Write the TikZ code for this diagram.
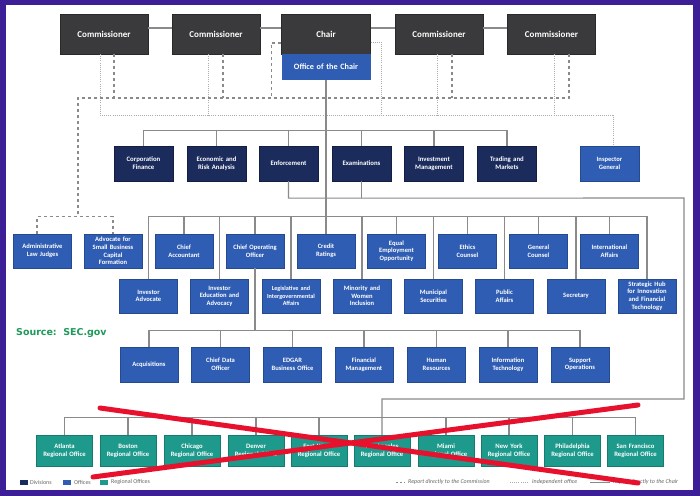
\documentclass[tikz,border=0pt]{standalone}
\usepackage{fontspec}
\setmainfont{Carlito}
\newfontfamily\srcfont{DejaVu Sans}
\definecolor{framec}{HTML}{3C1E96}
\definecolor{commc}{HTML}{3A3A3C}
\definecolor{divc}{HTML}{1B2B5C}
\definecolor{offc}{HTML}{2F5DB3}
\definecolor{regc}{HTML}{1D9A8C}
\definecolor{linec}{HTML}{8A8A8A}
\definecolor{srcc}{HTML}{1E9A5A}
\definecolor{redx}{HTML}{E8112D}
\definecolor{legc}{HTML}{666666}
\tikzset{
  basebox/.style={inner sep=0pt, align=center, text=white, font=\bfseries\fontsize{6.6}{7.6}\selectfont},
  commbox/.style={basebox, fill=commc, draw=commc!70!black, minimum width=88bp, minimum height=40bp, text width=84bp, font=\bfseries\fontsize{9}{10}\selectfont},
  chairoff/.style={basebox, fill=offc, minimum width=89bp, minimum height=26bp, text width=85bp, font=\bfseries\fontsize{8.2}{9}\selectfont},
  divbox/.style={basebox, fill=divc, draw=divc!70!black, minimum width=59bp, minimum height=35bp, text width=56bp, font=\bfseries\fontsize{6.8}{8.2}\selectfont},
  offbox/.style={basebox, fill=offc, draw=offc!80!black, minimum width=58bp, minimum height=34bp, text width=56bp},
  offboxc/.style={offbox, minimum height=35bp},
  regbox/.style={basebox, fill=regc, draw=regc!80!black, minimum width=56bp, minimum height=31bp, text width=55bp, font=\bfseries\fontsize{6.7}{8}\selectfont},
  conn/.style={draw=linec, line width=1.1bp},
  rep/.style={draw=linec, line width=1.3bp, dash pattern=on 3bp off 3bp},
  ind/.style={draw=linec!70, line width=0.9bp, dash pattern=on 0.9bp off 1.2bp},
  legtext/.style={text=legc, inner sep=0pt, anchor=west, font=\fontsize{6}{7}\selectfont},
  legitext/.style={legtext, font=\itshape\fontsize{6}{7}\selectfont},
  legsq/.style={inner sep=0pt, minimum width=8bp, minimum height=5bp},
  redline/.style={draw=redx, line width=5bp, line cap=round},
}
\begin{document}
\begin{tikzpicture}[x=1bp,y=-1bp]
\useasboundingbox (0,0) rectangle (700,496);
\fill[framec] (0,0) rectangle (700,496);
\fill[white] (6,5) rectangle (693,490);

% top row
\node[commbox] (c1) at (104,34) {Commissioner};
\node[commbox] (c2) at (216,34) {Commissioner};
\node[commbox, minimum width=89bp] (ch) at (326,34) {Chair};
\node[commbox] (c4) at (439,34) {Commissioner};
\node[commbox] (c5) at (551.5,34) {Commissioner};
\node[chairoff] (ofc) at (326,67) {Office of the Chair};

% divisions
\node[divbox] (cf) at (143.5,163.5) {Corporation\\Finance};
\node[divbox] (era) at (216.5,163.5) {Economic and\\Risk Analysis};
\node[divbox] (enf) at (288.5,163.5) {Enforcement};
\node[divbox] (exam) at (361.5,163.5) {Examinations};
\node[divbox] (im) at (434,163.5) {Investment\\Management};
\node[divbox] (tm) at (507,163.5) {Trading and\\Markets};
\node[offbox, minimum width=59bp, minimum height=35bp] (ig) at (609.5,163.5) {Inspector\\General};

% offices row A
\node[offbox] (alj) at (42.5,251) {Administrative\\Law Judges};
\node[offbox] (asb) at (113,251) {Advocate for\\Small Business\\Capital\\Formation};
\node[offbox] (ca) at (184,251) {Chief\\Accountant};
\node[offbox] (coo) at (255,251) {Chief Operating\\Officer};
\node[offbox] (cr) at (326,251) {Credit\\Ratings};
\node[offbox] (eeo) at (396.5,251) {Equal\\Employment\\Opportunity};
\node[offbox] (ec) at (467.5,251) {Ethics\\Counsel};
\node[offbox] (gc) at (538.5,251) {General\\Counsel};
\node[offbox] (ia) at (609.5,251) {International\\Affairs};

% offices row B
\node[offbox] (inva) at (148.5,296) {Investor\\Advocate};
\node[offbox] (iea) at (219.5,296) {Investor\\Education and\\Advocacy};
\node[offbox, font=\bfseries\fontsize{6.2}{7.6}\selectfont] (lia) at (291,296) {Legislative and\\Intergovernmental\\Affairs};
\node[offbox] (mwi) at (362,296) {Minority and\\Women\\Inclusion};
\node[offbox] (ms) at (433.5,296) {Municipal\\Securities};
\node[offbox] (pa) at (504.5,296) {Public\\Affairs};
\node[offbox] (sec) at (576,296) {Secretary};
\node[offbox] (sh) at (647,296) {Strategic Hub\\for Innovation\\and Financial\\Technology};

% offices row C (COO)
\node[offboxc] (acq) at (149,364.5) {Acquisitions};
\node[offboxc] (cdo) at (220.5,364.5) {Chief Data\\Officer};
\node[offboxc] (edg) at (292.5,364.5) {EDGAR\\Business Office};
\node[offboxc] (fm) at (364,364.5) {Financial\\Management};
\node[offboxc] (hr) at (436.5,364.5) {Human\\Resources};
\node[offboxc] (it) at (508,364.5) {Information\\Technology};
\node[offboxc] (so) at (580,364.5) {Support\\Operations};

% regional offices
\node[regbox] (atl) at (64.5,450.5) {Atlanta\\Regional Office};
\node[regbox] (bos) at (128,450.5) {Boston\\Regional Office};
\node[regbox] (chi) at (192,450.5) {Chicago\\Regional Office};
\node[regbox] (den) at (256,450.5) {Denver\\Regional Office};
\node[regbox] (ftw) at (319,450.5) {Fort Worth\\Regional Office};
\node[regbox] (la) at (382,450.5) {Los Angeles\\Regional Office};
\node[regbox] (mia) at (446,450.5) {Miami\\Regional Office};
\node[regbox] (ny) at (509,450.5) {New York\\Regional Office};
\node[regbox] (phi) at (572.5,450.5) {Philadelphia\\Regional Office};
\node[regbox] (sf) at (635.5,450.5) {San Francisco\\Regional Office};

% commission solid link
\draw[conn] ([yshift=6bp]c1.east) -- ([yshift=6bp]c2.west);
\draw[conn] ([yshift=6bp]c2.east) -- ([yshift=6bp]ch.west);
\draw[conn] ([yshift=6bp]ch.east) -- ([yshift=6bp]c4.west);
\draw[conn] ([yshift=6bp]c4.east) -- ([yshift=6bp]c5.west);

% independent (dotted)
\draw[ind] ([xshift=-4bp]c1.south) -- ++(0,61) -| ([xshift=3.5bp]ig.north);
\draw[ind] ([xshift=-8bp]c2.south) -- ++(0,61);
\draw[ind] ([xshift=-2bp]c4.south) -- ++(0,61);
\draw[ind] ([xshift=2.5bp]c5.south) -- ++(0,61);
\draw[ind] ([yshift=-8bp]ch.east) -- ++(11,0) -- ++(0,73);

% report to commission (dashed)
\coordinate (dk) at (78,98);
\coordinate (dj) at (78,217);
\draw[rep] ([xshift=17.5bp]c5.south) |- (dk) -- (dj);
\draw[rep] ([xshift=10bp]c1.south) -- ++(0,44);
\draw[rep] ([xshift=7bp]c2.south) -- ++(0,44);
\draw[rep] ([xshift=13bp]c4.south) -- ++(0,44);
\draw[rep] ([yshift=-9bp]ch.west) -- ++(-10,0) -- ++(0,55);
\draw[rep] ([xshift=-5.5bp]alj.north) -- ++(0,-17) -| (asb.north);

% chair spine
\draw[conn] (ofc.south) -- (cr.north);
% divisions bus
\draw[conn] (cf.north) -- ++(0,-15) -| (tm.north);
\foreach \n in {era,enf,exam,im} \draw[conn] (\n.north) -- ++(0,-15);
% offices bus
\draw[conn] (inva.north) -- ++(0,-62) -| (sh.north);
\foreach \n in {ca,coo,eeo,ec,gc,ia} \draw[conn] (\n.north) -- ++(0,-17);
\foreach \n in {iea,lia,mwi,ms,pa,sec} \draw[conn] (\n.north) -- ++(0,-62);
% COO bus
\draw[conn] (coo.south) -- ++(0,63);
\draw[conn] (acq.north) -- ++(0,-16) -| (so.north);
\foreach \n in {cdo,edg,fm,hr,it} \draw[conn] (\n.north) -- ++(0,-16);
% enforcement/examinations to regional offices
\coordinate (rt) at (684,198);
\coordinate (rb) at (684,399);
\coordinate (lb) at (382,399);
\draw[conn] (enf.south) -- ++(0,17) -- (rt) -- (rb) -- (lb) -- (la.north);
\draw[conn] (exam.south) -- ++(0,17);
% regional bus
\draw[conn] (atl.north) -- ++(0,-17) -| (sf.north);
\foreach \n in {bos,chi,den,ftw,mia,ny,phi} \draw[conn] (\n.north) -- ++(0,-17);

% source
\node[text=srcc, inner sep=0pt, anchor=west, font=\srcfont\bfseries\fontsize{9.5}{11}\selectfont] (src) at (16,333) {Source:\ \ SEC.gov};

% legend
\node[legsq, fill=divc] (l1) at (24,482) {};
\node[legtext] (l1t) at (30,482) {Divisions};
\node[legsq, fill=offc] (l2) at (67,482) {};
\node[legtext] (l2t) at (74,482) {Offices};
\node[legsq, fill=regc] (l3) at (104,482) {};
\node[legtext] (l3t) at (111,482) {Regional Offices};
\coordinate (r1a) at (396,482); \coordinate (r1b) at (405,482);
\draw[rep, line width=0.8bp, dash pattern=on 2bp off 2bp] (r1a) -- (r1b);
\node[legitext] (r1t) at (408,482) {Report directly to the Commission};
\coordinate (r2a) at (510,482); \coordinate (r2b) at (528,482);
\draw[ind, line width=0.6bp] (r2a) -- (r2b);
\node[legitext] (r2t) at (532,482) {Independent office};
\coordinate (r3a) at (590,482); \coordinate (r3b) at (610,482);
\draw[conn, line width=0.8bp] (r3a) -- (r3b);
\node[legitext] (r3t) at (613,482) {Report directly to the Chair};

% red X
\coordinate (x1a) at (100,408); \coordinate (x1b) at (638,483);
\coordinate (x2a) at (93,477); \coordinate (x2b) at (638,405);
\draw[redline] (x1a) -- (x1b);
\draw[redline] (x2a) -- (x2b);
\end{tikzpicture}
\end{document}
